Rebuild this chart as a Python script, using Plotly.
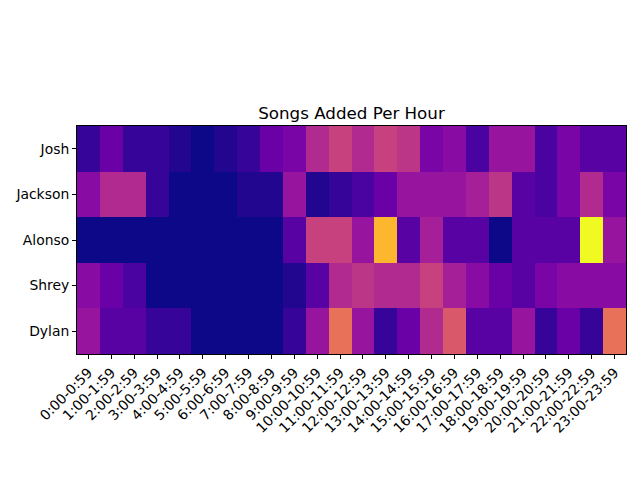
import plotly.graph_objects as go

people = ['Josh', 'Jackson', 'Alonso', 'Shrey', 'Dylan']
hours = [f'{h}:00-{h}:59' for h in range(24)]

# songs added per hour, one list per person
josh = [2, 5, 2, 2, 1, 0, 1, 2, 5, 6, 10, 12, 10, 12, 11, 6, 7, 3, 8, 8, 3, 6, 4, 4]
jackson = [7, 10, 10, 2, 0, 0, 0, 1, 1, 8, 1, 2, 3, 5, 8, 8, 8, 9, 11, 4, 3, 6, 10, 6]
alonso = [0, 0, 0, 0, 0, 0, 0, 0, 0, 4, 12, 12, 8, 21, 4, 9, 4, 4, 0, 4, 4, 4, 25, 8]
shrey = [7, 5, 3, 0, 0, 0, 0, 0, 0, 1, 4, 10, 11, 10, 10, 12, 9, 7, 5, 4, 6, 7, 7, 7]
dylan = [8, 4, 4, 2, 2, 0, 0, 0, 0, 2, 8, 16, 8, 2, 5, 10, 14, 4, 4, 8, 2, 5, 2, 16]

z = [josh, jackson, alonso, shrey, dylan]

fig = go.Figure(go.Heatmap(
    z=z, x=hours, y=people,
    colorscale='Plasma', showscale=False,
    hoverinfo='x+y+z',
))

font = dict(family='DejaVu Sans', size=13.9, color='black')

# page body adds an 8px offset, so margins are shifted to compensate
fig.update_layout(
    width=640, height=480,
    margin=dict(l=69, r=22, t=118, b=134),
    paper_bgcolor='white', plot_bgcolor='white',
    font=font,
    title=dict(text='Songs Added Per Hour', x=(69 + 618) / 2 / 640, xanchor='center',
               y=1 - 105 / 480, yanchor='middle', font=dict(family='DejaVu Sans', size=16.7)),
)
fig.update_xaxes(tickangle=-45, ticks='outside', ticklen=4, tickcolor='black',
                 showline=True, linecolor='black', linewidth=1, mirror=True,
                 showgrid=False, zeroline=False, tickfont=font, automargin=False)
fig.update_yaxes(autorange='reversed', ticks='outside', ticklen=4, tickcolor='black',
                 showline=True, linecolor='black', linewidth=1, mirror=True,
                 showgrid=False, zeroline=False, tickfont=font, automargin=False)

fig.write_html('out.html')
